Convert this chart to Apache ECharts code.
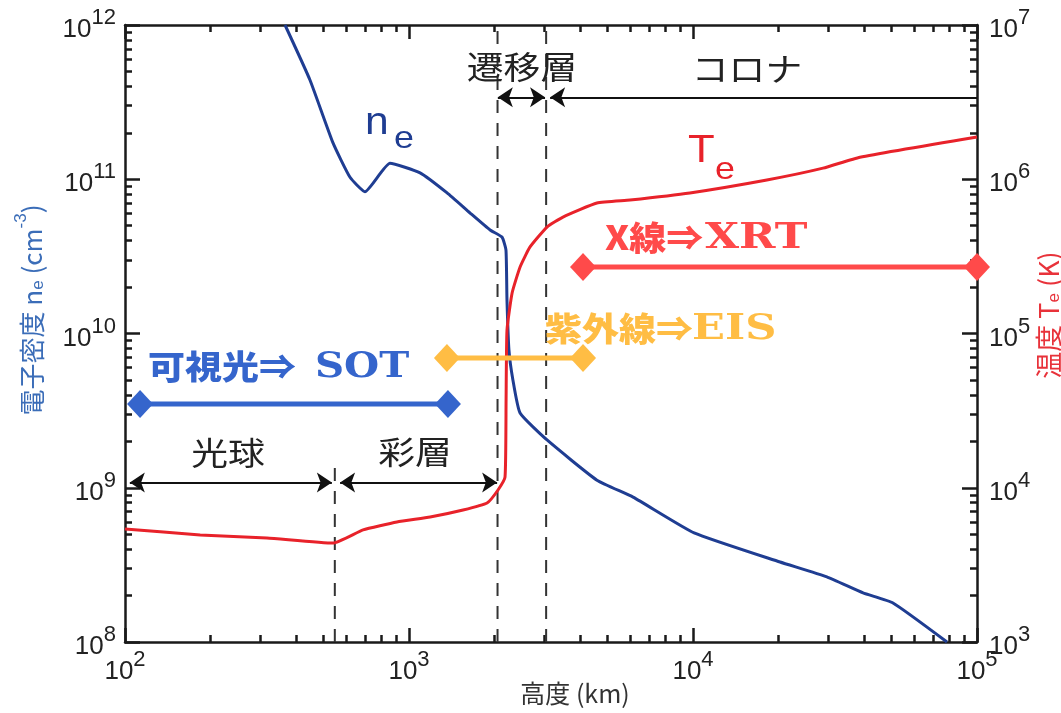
<!DOCTYPE html>
<html><head><meta charset="utf-8">
<script src="https://cdn.jsdelivr.net/npm/echarts@6/dist/echarts.min.js"></script>
<style>html,body{margin:0;padding:0;background:#fff}#c{width:1061px;height:713px}</style>
</head><body><div id="c"></div>
<script>
// ---- data (height in km) ----
const heightNe = [366, 448, 540, 620, 700, 857, 1094, 1362, 1641, 1929, 2125, 2195, 2213, 2249, 2322, 2461, 3062, 4590, 6150, 10090, 20250, 29600, 39700, 50600, 78400];
const densityNe = [1.0e12, 4.4e11, 1.72e11, 1.03e11, 8.3e10, 1.27e11, 1.10e11, 8.15e10, 6.04e10, 4.69e10, 4.22e10, 3.47e10, 1.65e10, 7.8e9, 5.0e9, 3.05e9, 2.04e9, 1.12e9, 8.7e8, 5.1e8, 3.3e8, 2.64e8, 2.08e8, 1.79e8, 1.0e8];
const heightTe = [100, 184, 316, 540, 689, 907, 1187, 1550, 1883, 2058, 2178, 2197, 2213, 2307, 2461, 2668, 3062, 3485, 4590, 6000, 9750, 18200, 28700, 38700, 100000];
const temperatureTe = [5410, 4940, 4730, 4380, 5330, 6000, 6460, 7170, 7960, 9670, 11700, 37100, 105000, 183000, 270000, 364000, 490000, 569000, 701000, 733000, 815000, 989000, 1.18e6, 1.39e6, 1.88e6];

// instrument coverage bars (height range, drawn at density level)
const sotRange = [113, 1371];   const sotLevel = 3.49e9;
const euvRange = [1360, 4100];  const euvLevel = 6.93e9;
const xrtRange = [4100, 100000]; const xrtLevel = 2.7e10;

// layer boundaries (km)
const boundaryPhotoChromo = 548;
const boundaryChromoTR = 2050;
const boundaryTRCorona = 3040;
const dashLowTop = 1.45e9;

// layer arrows
const photoArrow = [104, 535];
const chromoArrow = [572, 2043];
const lowArrowLevel = 1.08e9;
const trArrow = [2055, 3013];
const coronaArrow = [3140, 100000];
const highArrowLevel = 3.4e11;

// tick values
const xMajor = [100, 1000, 10000, 100000];
const neMajor = [1e8, 1e9, 1e10, 1e11, 1e12];
const teMajor = [1e3, 1e4, 1e5, 1e6, 1e7];
function minorOf(major) {
  const out = [];
  for (let i = 0; i < major.length - 1; i++) for (let k = 2; k <= 9; k++) out.push(k * major[i]);
  return out;
}
const xMinor = minorOf(xMajor), neMinor = minorOf(neMajor), teMinor = minorOf(teMajor);

// ---- chart ----
const chart = echarts.init(document.getElementById('c'));
const INK = '#1a1a1a';
const expFmt = v => '{b|10}{s|' + Math.round(Math.log10(v)) + '}';
const labRich = {
  b: {fontFamily: 'Liberation Sans', fontSize: 26, color: '#222', verticalAlign: 'bottom'},
  s: {fontFamily: 'Liberation Sans', fontSize: 22, color: '#222', verticalAlign: 'bottom', padding: [0, 0, 14, 0]}
};
function mainAxis(pos, min, max, major, showLine, showLabel, margin) {
  return {
    type: 'log', logBase: 10, min: min, max: max, position: pos, gridIndex: 0,
    axisLine: {show: showLine, onZero: false, lineStyle: {color: INK, width: 2.5}},
    axisTick: {show: false},
    axisLabel: {show: showLabel, customValues: major, formatter: expFmt, rich: labRich, margin: margin},
    splitLine: {show: false}, minorTick: {show: false}, minorSplitLine: {show: false}
  };
}
// tick overlay axes: linear axes in log10 space carrying only tick marks
function tickAxis(pos, min, max, vals, len) {
  return {
    type: 'value', min: Math.log10(min), max: Math.log10(max), position: pos, gridIndex: 0,
    axisLine: {show: false, onZero: false},
    axisTick: {show: true, inside: true, length: len, customValues: vals.map(v => Math.log10(v)),
               lineStyle: {color: INK, width: 2.5}},
    axisLabel: {show: false}, splitLine: {show: false}
  };
}
const xAxes = [
  mainAxis('bottom', 100, 1e5, xMajor, true, true, 7),
  mainAxis('top', 100, 1e5, xMajor, true, false, 8),
  tickAxis('bottom', 100, 1e5, xMajor, 14),
  tickAxis('bottom', 100, 1e5, xMinor, 7),
  tickAxis('top', 100, 1e5, xMajor, 14),
  tickAxis('top', 100, 1e5, xMinor, 7)
];
const yAxes = [
  mainAxis('left', 1e8, 1e12, neMajor, true, true, 9),
  mainAxis('right', 1e3, 1e7, teMajor, true, true, 12),
  tickAxis('left', 1e8, 1e12, neMajor, 15),
  tickAxis('left', 1e8, 1e12, neMinor, 7),
  tickAxis('right', 1e3, 1e7, teMajor, 15),
  tickAxis('right', 1e3, 1e7, teMinor, 7)
];

const zip = (a, b) => a.map((v, i) => [v, b[i]]);
function rangeBar(range, level, color) {
  return {type: 'line', xAxisIndex: 0, yAxisIndex: 0, clip: false, z: 5,
    data: [[range[0], level], [range[1], level]],
    symbol: 'diamond', symbolSize: [26, 28], showSymbol: true,
    lineStyle: {color: color, width: 5}, itemStyle: {color: color}};
}
function dashV(x, y0, y1) {
  return {type: 'line', xAxisIndex: 0, yAxisIndex: 0, data: [[x, y0], [x, y1]], symbol: 'none', z: 1,
    lineStyle: {color: '#333', width: 2, type: [13, 10]}};
}
function arrowLine(range, level, syms) {
  return {type: 'lines', coordinateSystem: 'cartesian2d', xAxisIndex: 0, yAxisIndex: 0, z: 3,
    symbol: syms, symbolSize: 15,
    lineStyle: {color: '#111', width: 2, opacity: 1, curveness: 0},
    itemStyle: {color: '#111'},
    data: [{coords: [[range[0], level], [range[1], level]]}]};
}

const series = [
  dashV(boundaryPhotoChromo, 1e8, dashLowTop),
  dashV(boundaryChromoTR, 1e8, 1e12),
  dashV(boundaryTRCorona, 1e8, 1e12),
  arrowLine(photoArrow, lowArrowLevel, ['arrow', 'arrow']),
  arrowLine(chromoArrow, lowArrowLevel, ['arrow', 'arrow']),
  arrowLine(trArrow, highArrowLevel, ['arrow', 'arrow']),
  arrowLine(coronaArrow, highArrowLevel, ['arrow', 'none']),
  {type: 'line', name: 'ne', xAxisIndex: 0, yAxisIndex: 0, data: zip(heightNe, densityNe), symbol: 'none', z: 4,
   smooth: 0.15, lineStyle: {color: '#1f3d92', width: 3}},
  {type: 'line', name: 'Te', xAxisIndex: 0, yAxisIndex: 1, data: zip(heightTe, temperatureTe), symbol: 'none', z: 4,
   smooth: 0.15, lineStyle: {color: '#e8222a', width: 3}},
  rangeBar(sotRange, sotLevel, '#3565cc'),
  rangeBar(euvRange, euvLevel, '#ffbd44'),
  rangeBar(xrtRange, xrtLevel, '#ff4a4a')
];

const CJK = 'Noto Sans CJK JP';
function txt(x, y, text, opts) {
  return Object.assign({type: 'text', x: x, y: y, z: 100, scaleX: opts.scaleX || 1, rotation: opts.rotation || 0,
    style: Object.assign({text: text, fontFamily: CJK, fontSize: 32, fill: '#222',
      align: 'center', verticalAlign: 'middle'}, opts.style || {})});
}
const graphics = [
  txt(522, 67, '遷移層', {scaleX: 1.15}),
  txt(747, 69, 'コロナ', {scaleX: 1.15}),
  txt(228, 453, '光球', {scaleX: 1.15}),
  txt(415, 452, '彩層', {scaleX: 1.15}),
  // ne / Te labels
  txt(365, 124, 'n', {scaleX: 1.12, style: {fontFamily: 'Liberation Sans', fontSize: 38, fill: '#1f3d92', align: 'left'}}),
  txt(394, 139, 'e', {scaleX: 1.12, style: {fontFamily: 'Liberation Sans', fontSize: 32, fill: '#1f3d92', align: 'left'}}),
  txt(688, 151, 'T', {scaleX: 1.12, style: {fontFamily: 'Liberation Sans', fontSize: 39, fill: '#e8222a', align: 'left'}}),
  txt(715, 170, 'e', {scaleX: 1.12, style: {fontFamily: 'Liberation Sans', fontSize: 32, fill: '#e8222a', align: 'left'}}),
  // instrument labels
  txt(148, 366, '可視光⇒', {scaleX: 1.12, style: {fontSize: 33, fontWeight: 900, fill: '#3565cc', align: 'left'}}),
  txt(315, 368, 'SOT', {scaleX: 1.12, style: {fontFamily: 'DejaVu Serif', fontWeight: 'bold', fontSize: 36, fill: '#3565cc', align: 'left'}}),
  txt(545, 328, '紫外線⇒', {scaleX: 1.12, style: {fontSize: 33, fontWeight: 900, fill: '#ffbd44', align: 'left'}}),
  txt(692, 330, 'EIS', {scaleX: 1.2, style: {fontFamily: 'DejaVu Serif', fontWeight: 'bold', fontSize: 36, fill: '#ffbd44', align: 'left'}}),
  txt(605, 237, 'X線⇒', {scaleX: 1.12, style: {fontSize: 33, fontWeight: 900, fill: '#ff4a4a', align: 'left'}}),
  txt(705, 239, 'XRT', {scaleX: 1.22, style: {fontFamily: 'DejaVu Serif', fontWeight: 'bold', fontSize: 36, fill: '#ff4a4a', align: 'left'}}),
  // axis names
  txt(575, 693, '高度 (km)', {style: {fontSize: 25, fill: '#333'}}),
  txt(30, 310, '{t|電子密度 n}{sub|e}{t| (cm}{sup|-3}{t|)}', {rotation: Math.PI / 2, style: {fill: '#3b6db8', rich: {
      t: {fontFamily: CJK, fontSize: 26, fill: '#3b6db8', verticalAlign: 'top', padding: [6, 0, 0, 0]},
      sub: {fontFamily: 'Liberation Sans', fontSize: 17, fill: '#3b6db8', verticalAlign: 'top', padding: [17, 0, 0, 0]},
      sup: {fontFamily: 'Liberation Sans', fontSize: 17, fill: '#3b6db8', verticalAlign: 'top', padding: [0, 0, 0, 0]}}}}),
  txt(1046, 315, '{t|温度 T}{sub|e}{t| (K)}', {rotation: Math.PI / 2, style: {fill: '#e8323a', rich: {
      t: {fontFamily: CJK, fontSize: 27, fill: '#e8323a', verticalAlign: 'top', padding: [6, 0, 0, 0]},
      sub: {fontFamily: 'Liberation Sans', fontSize: 17, fill: '#e8323a', verticalAlign: 'top', padding: [17, 0, 0, 0]}}}})
];

chart.setOption({
  animation: false,
  backgroundColor: '#fff',
  grid: {left: 125, right: 84, top: 25, bottom: 71, containLabel: false, outerBoundsMode: 'none'},
  xAxis: xAxes,
  yAxis: yAxes,
  series: series,
  graphic: graphics
});
</script>
</body></html>
